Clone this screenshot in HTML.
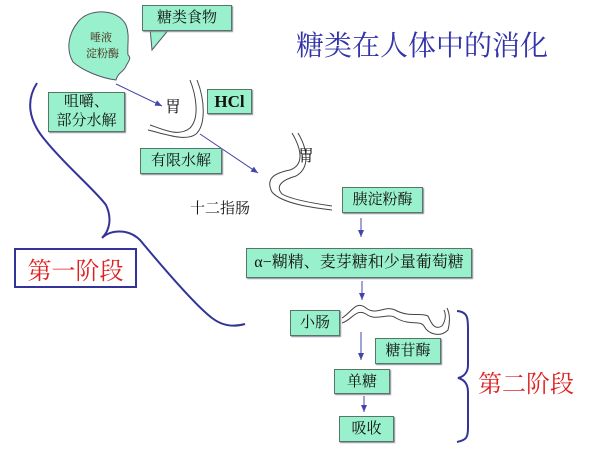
<!DOCTYPE html>
<html><head><meta charset="utf-8"><style>
body{margin:0;width:600px;height:450px;background:#fff;position:relative;overflow:hidden;font-family:"Liberation Serif","Noto Serif CJK SC","Noto Sans CJK SC",serif;}
.b{position:absolute;background:#99f0cc;border:1px solid #557766;box-shadow:1px 1px 1px #889;display:flex;align-items:center;justify-content:center;font-size:15px;color:#111;text-align:center;line-height:18px;box-sizing:border-box;}
.t{position:absolute;white-space:nowrap;color:#111;}
</style></head><body>
<svg width="600" height="450" style="position:absolute;left:0;top:0">
<defs><marker id="a" markerWidth="8" markerHeight="8" refX="7" refY="4" orient="auto"><path d="M0,1 L7,4 L0,7z" fill="#4444aa"/></marker></defs>
<path d="M78,22 C88,8 118,8 126,25 C130,35 127,45 128,55 C132,58 128,62 126,66 C124,72 118,72 116,80 C100,78 82,70 73,62 C66,50 68,34 78,22z" fill="#99f0cc" stroke="#556" stroke-width="1"/>
<path d="M150,28 L152,50 L170,28z" fill="#99f0cc" stroke="#556"/>
<path d="M116,84 L162,106" stroke="#4444aa" stroke-width="1" marker-end="url(#a)"/>
<path d="M200,134 L258,173" stroke="#4444aa" stroke-width="1" marker-end="url(#a)"/>
<path d="M190,80 C196,95 200,118 190,128 C178,138 160,128 150,125 M197,80 C205,100 206,125 196,134 C186,142 165,134 148,130" fill="none" stroke="#444" stroke-width="1"/>
<path d="M292,133 C302,150 304,165 290,170 C275,173 265,178 272,192 C282,204 315,208 332,210 M298,133 C308,150 310,168 296,176 C282,180 275,186 282,194 C292,200 318,204 332,206" fill="none" stroke="#444" stroke-width="1"/>
<path d="M361,218 L361,237" stroke="#4444aa" marker-end="url(#a)"/>
<path d="M362,281 L362,300" stroke="#4444aa" marker-end="url(#a)"/>
<path d="M361,332 L361,360" stroke="#4444aa" marker-end="url(#a)"/>
<path d="M364,396 L364,412" stroke="#4444aa" marker-end="url(#a)"/>
<path d="M342,318 C352,312 356,300 366,308 C376,316 385,305 395,310 C410,318 420,312 428,316 C432,325 435,330 442,326 C446,320 446,314 444,310 M342,323 C352,320 356,308 366,314 C376,322 388,312 396,318 C410,326 420,320 424,326 C428,334 440,338 448,330 C450,322 450,314 447,308" fill="none" stroke="#444" stroke-width="1"/>
<path d="M37,83 C26,100 28,120 45,140 C65,165 95,190 106,205 C112,218 110,230 102,238 C110,230 128,228 140,240 C165,270 195,305 212,318 C225,328 238,326 245,324" fill="none" stroke="#333399" stroke-width="2"/>
<path d="M457,311 C468,312 468,318 468,330 L468,365 C468,374 462,377 458,378 C462,379 468,382 468,392 L468,428 C468,438 466,440 457,442" fill="none" stroke="#333399" stroke-width="2"/>
</svg>
<div class="t" style="left:86px;top:30px;font-size:11px;line-height:16px;text-align:center;width:30px;color:#421">唾液<br>淀粉酶</div>
<div class="b" style="left:142px;top:5px;width:90px;height:26px">糖类食物</div>
<div class="t" style="left:296px;top:24px;font-size:28px;color:#3333aa">糖类在人体中的消化</div>
<div class="b" style="left:48px;top:92px;width:77px;height:40px;font-size:15px;line-height:19px">咀嚼、<br>部分水解</div>
<div class="t" style="left:165px;top:94px;font-size:16px">胃</div>
<div class="b" style="left:207px;top:89px;width:45px;height:25px;font-weight:bold;font-size:17px">HCl</div>
<div class="b" style="left:140px;top:148px;width:82px;height:26px">有限水解</div>
<div class="t" style="left:298px;top:143px;font-size:16px">胃</div>
<div class="t" style="left:190px;top:197px;font-size:15px">十二指肠</div>
<div class="b" style="left:342px;top:187px;width:81px;height:26px">胰淀粉酶</div>
<div class="b" style="left:246px;top:248px;width:226px;height:30px;font-size:16px">α−糊精、麦芽糖和少量葡萄糖</div>
<div class="b" style="left:290px;top:310px;width:50px;height:26px">小肠</div>
<div class="b" style="left:375px;top:338px;width:66px;height:26px">糖苷酶</div>
<div class="b" style="left:334px;top:369px;width:56px;height:25px">单糖</div>
<div class="b" style="left:339px;top:416px;width:55px;height:26px">吸收</div>
<div style="position:absolute;left:14px;top:248px;width:123px;height:40px;border:2px solid #333399;background:#fff;box-sizing:border-box;display:flex;align-items:center;justify-content:center;color:#dd2222;font-size:24px">第一阶段</div>
<div class="t" style="left:478px;top:364px;font-size:24px;color:#dd2222">第二阶段</div>
</body></html>
